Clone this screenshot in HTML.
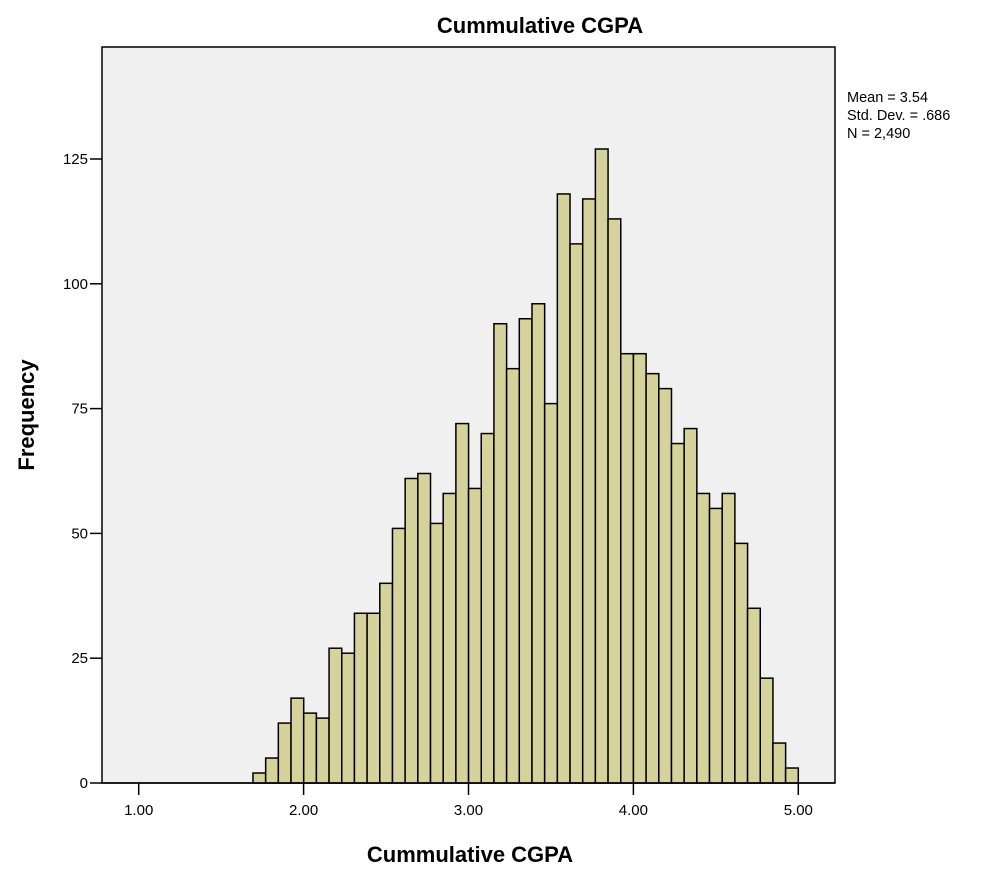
<!DOCTYPE html>
<html><head><meta charset="utf-8"><style>
html,body{margin:0;padding:0;background:#fff;}
svg{display:block;font-family:"Liberation Sans",Arial,sans-serif;}
</style></head><body>
<svg id="chart" width="1000" height="879" viewBox="0 0 1000 879">
<rect x="0" y="0" width="1000" height="879" fill="#fff"/>
<text x="540" y="33" text-anchor="middle" font-size="22" font-weight="bold">Cummulative CGPA</text>
<rect x="102" y="47" width="733" height="736" fill="#f0f0f0" stroke="#000" stroke-width="1.5"/>
<g id="bars"></g>
<g id="axes"></g>
<text x="470" y="862" text-anchor="middle" font-size="22" font-weight="bold">Cummulative CGPA</text>
<text x="0" y="0" transform="translate(34,415) rotate(-90)" text-anchor="middle" font-size="22" font-weight="bold">Frequency</text>
<g font-size="14.5">
<text x="847" y="102">Mean = 3.54</text>
<text x="847" y="120">Std. Dev. = .686</text>
<text x="847" y="138">N = 2,490</text>
</g>
</svg>
<script>
const binStart = 1.693;
const binEnd = 5.0;
const counts = [2,5,12,17,14,13,27,26,34,34,40,51,61,62,52,58,72,59,70,92,83,93,96,76,118,108,117,127,113,86,86,82,79,68,71,58,55,58,48,35,21,8,3];
const xTicks = [1.00,2.00,3.00,4.00,5.00];
const xTickLabels = ["1.00","2.00","3.00","4.00","5.00"];
const yTicks = [0,25,50,75,100,125];
const yTickLabels = ["0","25","50","75","100","125"];

const NS="http://www.w3.org/2000/svg";
function xs(v){return 138.7+(v-1)*164.9;}
function ys(v){return 783-v*4.992;}
const bars=document.getElementById('bars');
const w=(binEnd-binStart)/counts.length;
counts.forEach((c,i)=>{
  const x0=xs(binStart+i*w), x1=xs(binStart+(i+1)*w);
  const r=document.createElementNS(NS,'rect');
  
  
  r.setAttribute('x',x0);r.setAttribute('y',ys(c));
  r.setAttribute('width',x1-x0);r.setAttribute('height',ys(0)-ys(c));
  r.setAttribute('fill','#d6d29c');r.setAttribute('stroke','#000');r.setAttribute('stroke-width','1.5');
  bars.appendChild(r);
});
const axes=document.getElementById('axes');
function line(x1,y1,x2,y2,name){
  const l=document.createElementNS(NS,'line');
  
  
  l.setAttribute('x1',x1);l.setAttribute('y1',y1);l.setAttribute('x2',x2);l.setAttribute('y2',y2);
  l.setAttribute('stroke','#000');l.setAttribute('stroke-width','1.5');
  axes.appendChild(l);
}
function text(x,y,s,anchor,name){
  const t=document.createElementNS(NS,'text');
  
  
  t.setAttribute('x',x);t.setAttribute('y',y);t.setAttribute('text-anchor',anchor);
  t.setAttribute('font-size','15');
  t.textContent=s;axes.appendChild(t);
}
line(102,783,835,783,'x-axis-line');
xTicks.forEach((v,i)=>{line(xs(v),783,xs(v),795,'x-tick');text(xs(v),815,xTickLabels[i],'middle','x-tick-label');});
yTicks.forEach((v,i)=>{line(90,ys(v),102,ys(v),'y-tick');text(88,ys(v)+5,yTickLabels[i],'end','y-tick-label');});
</script>
</body></html>
